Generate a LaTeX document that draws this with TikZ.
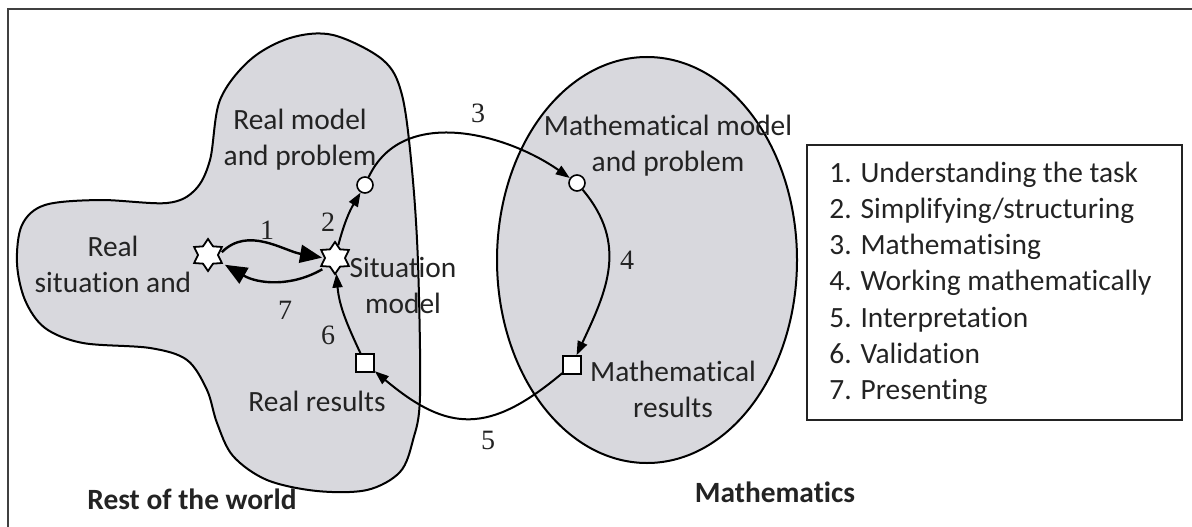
\documentclass[tikz,border=0pt]{standalone}
\usepackage{fontspec}
\setmainfont{Carlito}[Ligatures=NoCommon]
\newfontfamily\numfont{Liberation Serif}
\usetikzlibrary{shapes.geometric,arrows.meta}
\definecolor{regiongray}{RGB}{216,216,221}
\definecolor{inkgray}{RGB}{35,35,35}

\begin{document}
\begin{tikzpicture}[x=0.5pt,y=0.5pt,
  txt/.style={font=\fontsize{14.7}{18}\selectfont,text=inkgray,align=center,inner sep=0pt},
  num/.style={font=\numfont\fontsize{14}{14}\selectfont,text=inkgray,inner sep=0pt},
  region/.style={draw,line width=1pt,fill=regiongray},
  starmark/.style={star,star points=6,star point ratio=1.6,minimum size=16pt,inner sep=0pt,draw,fill=white,line width=0.9pt},
  dotmark/.style={circle,minimum size=8pt,inner sep=0pt,draw,fill=white,line width=0.8pt},
  boxmark/.style={rectangle,minimum size=9pt,inner sep=0pt,draw,fill=white,line width=0.8pt},
  flow/.style={line width=1pt,-{Triangle[length=7pt,width=5pt]}},
  bigflow/.style={line width=1.2pt,-{Triangle[length=11pt,width=9pt]},shorten <=2pt,shorten >=1pt}]
 \useasboundingbox (0,0) rectangle (1192,526);
 \draw[line width=1.4pt,black!75] (8,-20) -- (8,517) -- (1210,517);
 \begin{scope}
  \draw[region] plot[smooth cycle,tension=0.55] coordinates {
   (333,491) (383,466) (402,431) (412,356) (418,263) (420,130) (413,86)
   (400,54) (367,36) (317,35) (267,46) (233,70) (217,103) (207,136)
   (187,166) (150,178) (83,183) (45,198) (25,226) (17,263) (22,301)
   (45,321) (100,326) (167,323) (195,336) (210,366) (220,426) (250,466)
   (290,488)};
  \draw[region] (647,266) ellipse (150 and 203);
 \end{scope}
 \node[starmark] (sA) at (208,271) {};
 \node[starmark] (sB) at (335,268) {};
 \node[dotmark] (cA) at (365,341) {};
 \node[dotmark] (cB) at (577,343) {};
 \node[boxmark] (qB) at (572,161) {};
 \node[boxmark] (qA) at (365,163) {};
 \node[txt] (realsit) at (113,262) {Real\\situation and};
 \node[txt] (realmod) at (300,386) {Real model\\and problem};
 \node[txt] (sitmod) at (403,241) {Situation\\model};
 \node[txt] (realres) at (317,125) {Real results};
 \node[txt] (mathmod) at (668,380) {Mathematical model\\and problem};
 \node[txt] (mathres) at (673,137) {Mathematical\\results};
 \node[txt,font=\fontsize{14.7}{18}\selectfont\bfseries] (world) at (192,27) {Rest of the world};
 \node[txt,font=\fontsize{14.7}{18}\selectfont\bfseries] (maths) at (775,34) {Mathematics};
 \draw[bigflow] (sA.east) to[out=45,in=170] (sB.west);
 \draw[bigflow] (sB.south west) to[out=-150,in=-30] (sA.-30);
 \draw[flow] (sB) to[bend left=8] (cA);
 \draw[flow] (cA) to[out=65,in=145] (cB);
 \draw[flow] (cB) to[out=-50,in=65,looseness=1.1] (qB);
 \draw[flow] (qB) to[out=-140,in=-40,looseness=1.3] (qA);
 \draw[flow] (qA) to[out=115,in=-85] (sB);
 \node[num] (n1) at (267,296) {1};
 \node[num] (n2) at (328,304) {2};
 \node[num] (n3) at (478,413) {3};
 \node[num] (n4) at (627,266) {4};
 \node[num] (n5) at (488,86) {5};
 \node[num] (n6) at (328,191) {6};
 \node[num] (n7) at (285,216) {7};
 \draw[line width=1pt,inkgray] (807,381) rectangle (1182,106);
 \foreach \t [count=\i] in {Understanding the task,Simplifying/structuring,Mathematising,Working mathematically,Interpretation,Validation,Presenting}
  \node[txt,anchor=base west] (task\i) at (829,{344-36.3*(\i-1)}) {\i. \t};
\end{tikzpicture}
\end{document}
